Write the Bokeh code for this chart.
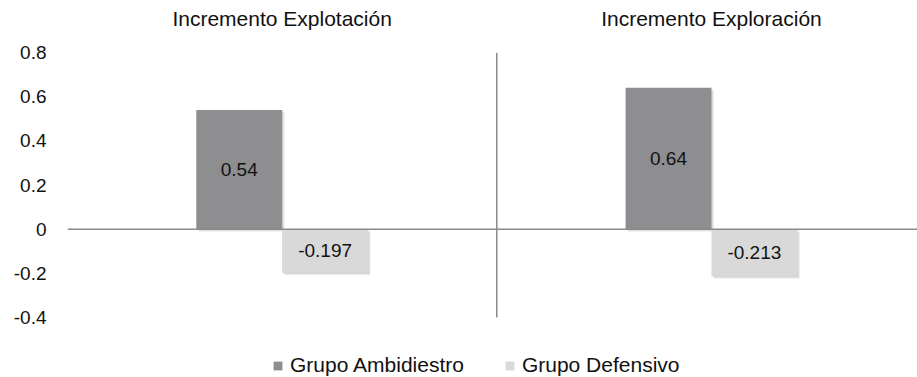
from bokeh.plotting import figure
from bokeh.models import (ColumnDataSource, Range1d, FixedTicker, Span, Legend,
                          LegendItem, LinearAxis)
from bokeh.core.properties import value
from bokeh.embed import file_html
from bokeh.resources import INLINE

# ---- data ----
categories = ["Incremento Explotación", "Incremento Exploración"]
series_names = ["Grupo Ambidiestro", "Grupo Defensivo"]
ambidiestro = [0.54, 0.64]
defensivo = [-0.197, -0.213]
label_ambi = ["0.54", "0.64"]
label_def = ["-0.197", "-0.213"]
y_ticks = [-0.4, -0.2, 0, 0.2, 0.4, 0.6, 0.8]
y_tick_labels = ["-0.4", "-0.2", "0", "0.2", "0.4", "0.6", "0.8"]

colors = ["#8e8e90", "#d9d9d9"]
FONT = "Liberation Sans"

centers = [i + 0.5 for i in range(len(categories))]
bw = 0.2

# frame extends below the value axis to host the legend
px_per_unit = 265 / (y_ticks[-1] - y_ticks[0])
frame_h = 325
y_low = y_ticks[-1] - frame_h / px_per_unit

p = figure(frame_width=850, frame_height=frame_h, output_backend="svg",
           toolbar_location=None,
           x_range=Range1d(0, 1.98), y_range=Range1d(y_low, y_ticks[-1]),
           min_border_left=67, min_border_right=0, min_border_top=52,
           min_border_bottom=0, x_axis_location=None, y_axis_location=None)
p.outline_line_color = None
p.xgrid.visible = False
p.ygrid.visible = False
p.background_fill_color = "white"
p.border_fill_color = "white"

# soft shadows (offset copies of the bars)
for dx, dy, a in ((0.003, 0.006, 0.10), (0.006, 0.012, 0.07)):
    for vals, off in ((ambidiestro, -0.1), (defensivo, 0.1)):
        src = ColumnDataSource(dict(x=[c + off + dx for c in centers],
                                    top=[v - dy for v in vals],
                                    bottom=[-dy] * len(vals)))
        p.vbar(x="x", top="top", bottom="bottom", width=bw, source=src,
               fill_color="#000000", fill_alpha=a, line_color=None)

renderers = []
for vals, off, col, labs in ((ambidiestro, -0.1, colors[0], label_ambi),
                             (defensivo, 0.1, colors[1], label_def)):
    src = ColumnDataSource(dict(x=[c + off for c in centers], top=vals,
                                mid=[v / 2 for v in vals], lab=labs))
    r = p.vbar(x="x", top="top", bottom=0, width=bw, source=src,
               fill_color=col, line_color=None)
    renderers.append(r)
    p.text(x="x", y="mid", text="lab", source=src, text_align="center",
           text_baseline="middle", text_font=value(FONT),
           text_font_size="19px", text_color="#111111")

# zero line and category divider
p.add_layout(Span(location=0, dimension="width", line_color="#8a8a8a",
                  line_width=1.5))
div_x = list(range(1, len(categories)))
p.segment(x0=div_x, x1=div_x, y0=[y_ticks[0]] * len(div_x),
          y1=[y_ticks[-1]] * len(div_x), line_color="#8a8a8a", line_width=1.5)

# y axis
yax = LinearAxis(ticker=FixedTicker(ticks=y_ticks),
                 major_label_overrides={t: l for t, l in zip(y_ticks, y_tick_labels)})
yax.axis_line_color = None
yax.major_tick_line_color = None
yax.minor_tick_line_color = None
yax.major_label_standoff = 15
yax.major_label_text_font = FONT
yax.major_label_text_font_size = "19px"
yax.major_label_text_color = "#111111"
p.add_layout(yax, "left")

# category titles on top
xax = LinearAxis(ticker=FixedTicker(ticks=centers),
                 major_label_overrides={c: n for c, n in zip(centers, categories)})
xax.axis_line_color = None
xax.major_tick_line_color = None
xax.minor_tick_line_color = None
xax.major_label_standoff = 17
xax.major_label_text_font = FONT
xax.major_label_text_font_size = "21px"
xax.major_label_text_color = "#111111"
p.add_layout(xax, "above")

legend = Legend(items=[LegendItem(label=n, renderers=[r])
                       for n, r in zip(series_names, renderers)],
                orientation="horizontal", location=(205, 0))
legend.label_text_font = FONT
legend.label_text_font_size = "21px"
legend.label_text_color = "#111111"
legend.glyph_width = 11
legend.glyph_height = 11
legend.spacing = 40
legend.label_standoff = 7
legend.border_line_color = None
legend.background_fill_alpha = 0
legend.margin = 0
legend.padding = 3
p.add_layout(legend)

open("out.html", "w").write(file_html(p, INLINE))
